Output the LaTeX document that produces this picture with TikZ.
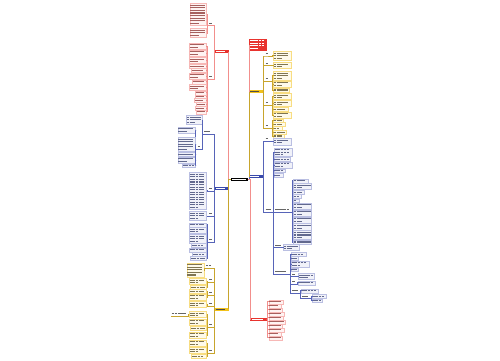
\documentclass[tikz,border=0pt]{standalone}
\usepackage{xcolor}
\usepackage{tikz}

\definecolor{mmred}{HTML}{E8332E}
\definecolor{mmblue}{HTML}{3949AB}
\definecolor{mmyel}{HTML}{F2C21B}

% one pixel of the 500x360 sheet
\newdimen\px \px=0.02cm

% one line of unreadable text, #1 wide
\newcommand{\oneln}[1]{\hbox to #1{\leaders\hbox{\vrule height .6pt depth 0pt width 1.5pt\kern .15pt}\hfil}}
% unreadable text, drawn as lines of text: #1 lines, #2 px wide
\newcommand{\lns}[2]{\vbox{\offinterlineskip\foreach\k in {1,...,#1}{%
\vskip.42pt
\ifnum\k=#1 \ifnum#1>1 \oneln{.6\dimexpr#2\px\relax}
\else\oneln{#2\px}\fi
\else\oneln{#2\px}\fi
\vskip.42pt}}}

\begin{document}
\begin{tikzpicture}[
x=0.02cm, y=-0.02cm,
every node/.append style={outer sep=0pt},
rootbox/.style={fill=black, text=white, inner xsep=.6pt, inner ysep=.4pt},
redbox/.style={fill=mmred, text=white, inner xsep=.6pt, inner ysep=.2pt},
bluebox/.style={fill=mmblue, text=white, inner xsep=.6pt, inner ysep=.2pt},
yelbox/.style={fill=mmyel, text=black!70, inner xsep=.6pt, inner ysep=.2pt},
leafr/.style={draw=mmred!35, fill=mmred!6, text=mmred!55!black!70, line width=.3pt, inner sep=.35pt},
leafb/.style={draw=mmblue!35, fill=mmblue!7, text=mmblue!55!black!70, line width=.3pt, inner sep=.35pt},
leafy/.style={draw=mmyel!55, fill=mmyel!9, text=mmyel!30!black!70, line width=.3pt, inner sep=.35pt},
lab/.style={text=black!60, inner sep=.45pt},
rline/.style={draw=mmred!55, line width=.45pt},
bline/.style={draw=mmblue!85, line width=.45pt},
yline/.style={draw=mmyel!80!black!90, line width=.45pt}
]

\path[fill=white] (0,0) rectangle (500,360);

%%%%%%%%%%%%%%%%%%%%%%%%%%%%%%%%%%%%%%%%%%%%%
% Root and main branches
%%%%%%%%%%%%%%%%%%%%%%%%%%%%%%%%%%%%%%%%%%%%%

\node[rootbox] (root) at (239.5,179.5) {\lns{1}{14.5}};

\node[redbox] (l1) at (222,51.8) {\lns{1}{11.5}};
\node[bluebox] (l2) at (222,188.3) {\lns{1}{11.5}};
\node[yelbox] (l3) at (222,309.3) {\lns{1}{11.5}};
\node[redbox, inner ysep=.6pt, anchor=north west] (r1) at (249,38.5) {\lns{4}{16}};
\node[yelbox] (r2) at (256,91.8) {\lns{1}{11.5}};
\node[bluebox] (r3) at (256,176.8) {\lns{1}{11.5}};
\node[redbox] (r4) at (258.5,319.5) {\lns{1}{14}};

\draw[rline] (root.west) -| (l1.east);
\draw[bline] (root.west) -| (l2.east);
\draw[yline] (root.west) -| (l3.east);
\draw[rline] (root.east) -| (r1.west);
\draw[yline] (root.east) -| (r2.west);
\draw[bline] (root.east) -| (r3.west);
\draw[rline] (root.east) -| (r4.west);

%%%%%%%%%%%%%%%%%%%%%%%%%%%%%%%%%%%%%%%%%%%%%
% Left red branch
%%%%%%%%%%%%%%%%%%%%%%%%%%%%%%%%%%%%%%%%%%%%%

\node[lab, anchor=south east] (l1a) at (213.6,25.5) {\lns{1}{3.5}};
\node[lab, anchor=south east] (l1b) at (213.6,79) {\lns{1}{3.5}};
\draw[rline] (l1.west) -- ++(-1,0) |- (l1a.south east) -- (l1a.south west);
\draw[rline] (l1.west) -- ++(-1,0) |- (l1b.south east) -- (l1b.south west);

\foreach \yy/\nl/\ww [count=\i] in {3.5/8/15.5, 28.5/3/15.5}{
  \node[leafr, anchor=north east] (l1a-\i) at (206.5,\yy) {\lns{\nl}{\ww}};
  \draw[rline] (l1a.south west) -- ++(-1,0) |- (l1a-\i.east);
}
\foreach \yy/\nl/\ww [count=\i] in {43/2/16, 50/2/16, 57.3/2/16, 64.3/1/16, 68.6/1/14, 73/2/16, 80/1/13, 84.2/2/16, 91/1/10, 94.8/1/10, 98.6/1/11, 102.4/1/9, 106.2/1/10, 110/1/9}{
  \node[leafr, anchor=north east] (l1b-\i) at (206.2,\yy) {\lns{\nl}{\ww}};
  \draw[rline] (l1b.south west) -- ++(-1,0) |- (l1b-\i.east);
}

%%%%%%%%%%%%%%%%%%%%%%%%%%%%%%%%%%%%%%%%%%%%%
% Left blue branch
%%%%%%%%%%%%%%%%%%%%%%%%%%%%%%%%%%%%%%%%%%%%%

\node[lab, anchor=south east] (l2a) at (213.6,134) {\lns{1}{8.5}};
\node[lab, anchor=south east] (l2b) at (213.6,191) {\lns{1}{3.5}};
\node[lab, anchor=south east] (l2c) at (213.6,216) {\lns{1}{3.5}};
\node[lab, anchor=south east] (l2d) at (213.6,242) {\lns{1}{3.5}};
\foreach \s in {l2a,l2b,l2c,l2d}
  \draw[bline] (l2.west) -- ++(-1,0) |- (\s.south east) -- (\s.south west);

\node[leafb, anchor=north east] (l2a-1) at (202.3,115.5) {\lns{3}{15}};
\node[lab, anchor=south east] (l2a1) at (202.3,149) {\lns{1}{4}};
\draw[bline] (l2a.south west) -- ++(-1,0) |- (l2a-1.east);
\draw[bline] (l2a.south west) -- ++(-1,0) |- (l2a1.south east) -- (l2a1.south west);
\foreach \yy/\nl/\ww [count=\i] in {127/2/16.5, 137.3/5/16.5, 152.3/1/16.5, 156.8/2/16.5, 163.8/1/12}{
  \node[leafb, anchor=north east] (l2a1-\i) at (195.5,\yy) {\lns{\nl}{\ww}};
  \draw[bline] (l2a1.south west) -- ++(-1,0) |- (l2a1-\i.east);
}

\node[leafb, anchor=north east] (l2b-1) at (206.5,172.5) {\lns{14}{16}};
\draw[bline] (l2b.south west) -- ++(-1,0) |- (l2b-1.east);
\node[leafb, anchor=north east] (l2c-1) at (206.5,211.5) {\lns{3}{16}};
\draw[bline] (l2c.south west) -- ++(-1,0) |- (l2c-1.east);
\foreach \yy/\nl/\ww [count=\i] in {223/1/16, 227.3/2/16, 234.2/3/16, 243.7/1/14, 248/1/16, 252.3/1/13, 256.6/1/15}{
  \node[leafb, anchor=north east] (l2d-\i) at (206.5,\yy) {\lns{\nl}{\ww}};
  \draw[bline] (l2d.south west) -- ++(-1,0) |- (l2d-\i.east);
}

%%%%%%%%%%%%%%%%%%%%%%%%%%%%%%%%%%%%%%%%%%%%%
% Left yellow branch
%%%%%%%%%%%%%%%%%%%%%%%%%%%%%%%%%%%%%%%%%%%%%

\node[lab, anchor=south east] (l3a) at (213.6,268) {\lns{1}{7}};
\node[lab, anchor=south east] (l3b) at (213.6,282) {\lns{1}{3.5}};
\node[lab, anchor=south east] (l3c) at (213.6,295) {\lns{1}{3.5}};
\node[lab, anchor=south east] (l3d) at (213.6,306) {\lns{1}{3.5}};
\node[lab, anchor=south east] (l3e) at (213.6,327) {\lns{1}{3.5}};
\node[lab, anchor=south east] (l3f) at (213.6,353) {\lns{1}{3.5}};
\foreach \s in {l3a,l3b,l3c,l3d,l3e,l3f}
  \draw[yline] (l3.west) -- ++(-1,0) |- (\s.south east) -- (\s.south west);

\node[leafy, anchor=north east] (l3a-1) at (204,263) {\lns{5}{16}};
\draw[yline] (l3a.south west) -- ++(-1,0) |- (l3a-1.east);
\foreach \yy/\nl/\ww [count=\i] in {278.3/2/16, 285.2/1/15}{
  \node[leafy, anchor=north east] (l3b-\i) at (206.5,\yy) {\lns{\nl}{\ww}};
  \draw[yline] (l3b.south west) -- ++(-1,0) |- (l3b-\i.east);
}
\foreach \yy/\nl/\ww [count=\i] in {289.6/1/16, 293.8/2/16}{
  \node[leafy, anchor=north east] (l3c-\i) at (206.5,\yy) {\lns{\nl}{\ww}};
  \draw[yline] (l3c.south west) -- ++(-1,0) |- (l3c-\i.east);
}
\node[leafy, anchor=north east] (l3d-1) at (206.5,301.2) {\lns{2}{16}};
\draw[yline] (l3d.south west) -- ++(-1,0) |- (l3d-1.east);
\foreach \yy/\nl/\ww [count=\i] in {311.3/2/16, 319/2/16, 326.6/1/15, 331.8/2/16}{
  \node[leafy, anchor=north east] (l3e-\i) at (206.5,\yy) {\lns{\nl}{\ww}};
  \draw[yline] (l3e.south west) -- ++(-1,0) |- (l3e-\i.east);
}
\node[lab, anchor=south east] (l3ex) at (188,316) {\lns{1}{15.5}};
\draw[yline] (l3e-1.west) -- ++(-1,0) |- (l3ex.south east) -- (l3ex.south west);
\foreach \yy/\nl/\ww [count=\i] in {340/2/16, 347.2/2/16, 354.4/1/14}{
  \node[leafy, anchor=north east] (l3f-\i) at (206.5,\yy) {\lns{\nl}{\ww}};
  \draw[yline] (l3f.south west) -- ++(-1,0) |- (l3f-\i.east);
}

%%%%%%%%%%%%%%%%%%%%%%%%%%%%%%%%%%%%%%%%%%%%%
% Right yellow branch
%%%%%%%%%%%%%%%%%%%%%%%%%%%%%%%%%%%%%%%%%%%%%

\node[lab, anchor=south west] (r2a) at (264.8,56) {\lns{1}{5.5}};
\node[lab, anchor=south west] (r2b) at (264.8,65.5) {\lns{1}{5.5}};
\node[lab, anchor=south west] (r2c) at (264.8,81) {\lns{1}{5.5}};
\node[lab, anchor=south west] (r2d) at (264.8,105) {\lns{1}{5.5}};
\node[lab, anchor=south west] (r2e) at (264.8,128) {\lns{1}{5.5}};
\foreach \s in {r2a,r2b,r2c,r2d,r2e}
  \draw[yline] (r2.east) -- ++(1,0) |- (\s.south west) -- (\s.south east);

\node[leafy, anchor=north west] (r2a-1) at (273,51.3) {\lns{3}{17}};
\draw[yline] (r2a.south east) -- ++(1,0) |- (r2a-1.west);
\node[leafy, anchor=north west] (r2b-1) at (273,62.3) {\lns{2}{17}};
\draw[yline] (r2b.south east) -- ++(1,0) |- (r2b-1.west);
\foreach \yy/\nl/\ww [count=\i] in {71.3/3/17, 81/2/17, 88.1/1/15}{
  \node[leafy, anchor=north west] (r2c-\i) at (273,\yy) {\lns{\nl}{\ww}};
  \draw[yline] (r2c.south east) -- ++(1,0) |- (r2c-\i.west);
}
\foreach \yy/\nl/\ww [count=\i] in {93.3/2/17, 100.4/2/17, 107.5/1/14, 112/2/17}{
  \node[leafy, anchor=north west] (r2d-\i) at (273,\yy) {\lns{\nl}{\ww}};
  \draw[yline] (r2d.south east) -- ++(1,0) |- (r2d-\i.west);
}
\foreach \yy/\ww [count=\i] in {118.9/9, 122.7/11, 126.5/8, 130.3/12, 134.1/10}{
  \node[leafy, anchor=north west] (r2e-\i) at (273,\yy) {\lns{1}{\ww}};
  \draw[yline] (r2e.south east) -- ++(1,0) |- (r2e-\i.west);
}

%%%%%%%%%%%%%%%%%%%%%%%%%%%%%%%%%%%%%%%%%%%%%
% Right blue branch
%%%%%%%%%%%%%%%%%%%%%%%%%%%%%%%%%%%%%%%%%%%%%

\node[lab, anchor=south west] (r3a) at (264.8,141) {\lns{1}{5.5}};
\node[lab, anchor=south west] (r3b) at (264.8,212) {\lns{1}{6.5}};
\foreach \s in {r3a,r3b}
  \draw[bline] (r3.east) -- ++(1,0) |- (\s.south west) -- (\s.south east);

\node[leafb, anchor=north west] (r3a-1) at (273,138.5) {\lns{2}{17}};
\draw[bline] (r3a.south east) -- ++(1,0) |- (r3a-1.west);

\foreach \yy/\nl/\ww [count=\i] in {147.8/3/17, 157.4/1/15, 161.8/2/17, 168.8/1/10, 173.2/1/8}{
  \node[leafb, anchor=north west] (r3b-\i) at (274.3,\yy) {\lns{\nl}{\ww}};
  \draw[bline] (r3b.south east) -- ++(1,0) |- (r3b-\i.west);
}
\node[lab, anchor=south west] (r3b1) at (274.3,212) {\lns{1}{15.5}};
\node[lab, anchor=south west] (r3b2) at (274.3,247.5) {\lns{1}{6}};
\node[lab, anchor=south west] (r3b3) at (274.3,274) {\lns{1}{14}};
\foreach \s in {r3b1,r3b2,r3b3}
  \draw[bline] (r3b.south east) -- ++(1,0) |- (\s.south west) -- (\s.south east);

\foreach \yy/\nl/\ww [count=\i] in {179/1/14, 183.3/2/17.5, 190.2/1/10, 194.5/1/7, 198.8/1/5, 203/2/17.5, 209.9/2/17.5, 216.8/2/17.5, 223.7/2/17.5, 230.6/3/17.5, 240.1/1/17.5}{
  \node[leafb, anchor=north west] (r3b1-\i) at (293,\yy) {\lns{\nl}{\ww}};
  \draw[bline] (r3b1.south east) -- ++(1,0) |- (r3b1-\i.west);
}
\node[leafb, anchor=north west] (r3b2-1) at (283,244.3) {\lns{2}{15}};
\draw[bline] (r3b2.south east) -- ++(1,0) |- (r3b2-1.west);

\foreach \yy/\nl/\ww [count=\i] in {252.3/1/14, 256.6/1/6, 260.9/2/17, 267.8/1/6}{
  \node[leafb, anchor=north west] (r3b3-\i) at (291.3,\yy) {\lns{\nl}{\ww}};
  \draw[bline] (r3b3.south east) -- ++(1,0) |- (r3b3-\i.west);
}
\node[lab, anchor=south west] (r3b3a) at (291.3,276.5) {\lns{1}{4}};
\node[lab, anchor=south west] (r3b3b) at (291.3,284) {\lns{1}{4}};
\node[lab, anchor=south west] (r3b3c) at (291.3,293) {\lns{1}{7}};
\foreach \s in {r3b3a,r3b3b,r3b3c}
  \draw[bline] (r3b3.south east) -- ++(1,0) |- (\s.south west) -- (\s.south east);

\node[leafb, anchor=north west] (r3b3a-1) at (298.5,273.2) {\lns{2}{15}};
\draw[bline] (r3b3a.south east) -- ++(1,0) |- (r3b3a-1.west);
\node[leafb, anchor=north west] (r3b3b-1) at (298.5,281) {\lns{1}{16}};
\draw[bline] (r3b3b.south east) -- ++(1,0) |- (r3b3b-1.west);
\node[leafb, anchor=north west] (r3b3c-1) at (301.3,289) {\lns{1}{16}};
\draw[bline] (r3b3c.south east) -- ++(1,0) |- (r3b3c-1.west);
\node[lab, anchor=south west] (r3b3c1) at (301.3,298.5) {\lns{1}{8}};
\draw[bline] (r3b3c.south east) -- ++(1,0) |- (r3b3c1.south west) -- (r3b3c1.south east);
\foreach \yy/\ww [count=\i] in {294.6/13, 298.8/9}{
  \node[leafb, anchor=north west] (r3b3c1-\i) at (312.3,\yy) {\lns{1}{\ww}};
  \draw[bline] (r3b3c1.south east) -- ++(1,0) |- (r3b3c1-\i.west);
}

%%%%%%%%%%%%%%%%%%%%%%%%%%%%%%%%%%%%%%%%%%%%%
% Right red branch
%%%%%%%%%%%%%%%%%%%%%%%%%%%%%%%%%%%%%%%%%%%%%

\foreach \ww [count=\i from 0] in {13,11,12,14,13,15,12,14,11,12}{
  \node[leafr, anchor=north west] (r4-\i) at (268.8,300+4*\i) {\lns{1}{\ww}};
  \draw[rline] (r4.east) -- ++(1,0) |- (r4-\i.west);
}

\end{tikzpicture}
\end{document}
